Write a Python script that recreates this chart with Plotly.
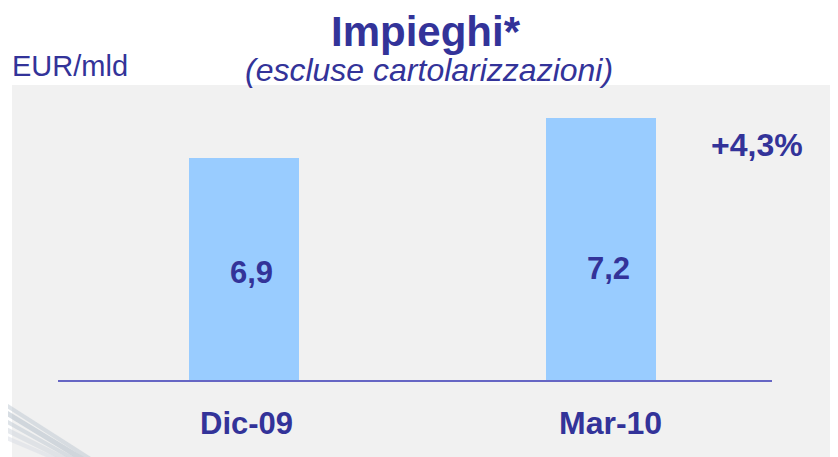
import plotly.graph_objects as go

categories = ["Dic-09", "Mar-10"]
values = [6.9, 7.2]
value_labels = ["6,9", "7,2"]
growth_label = "+4,3%"
title = "Impieghi*"
subtitle = "(escluse cartolarizzazioni)"
unit = "EUR/mld"

OFF = 8  # page body margin offset
W, H = 838, 457
ML, MR, MT, MB = 58 - OFF, 66 + OFF, 85 - OFF, 77 + OFF
PW, PH = W - ML - MR, H - MT - MB
FONT = "Liberation Sans, Arial, sans-serif"
TXT = "#333399"


def px(x):
    return (x - OFF - ML) / PW


def py(y):
    return (H - MB - (y - OFF)) / PH


xs = list(range(len(categories)))

fig = go.Figure()
fig.add_trace(go.Bar(
    x=xs, y=values, width=0.308,
    marker=dict(color="#99CCFF", line=dict(width=0)),
    hoverinfo="skip", showlegend=False,
))

ann = []
ann.append(dict(text="<b>" + title + "</b>", x=px(426), y=py(31), xref="paper", yref="paper",
                showarrow=False, xanchor="center", yanchor="middle",
                font=dict(family=FONT, size=42, color=TXT)))
ann.append(dict(text="<i>" + subtitle + "</i>", x=px(428.5), y=py(70), xref="paper", yref="paper",
                showarrow=False, xanchor="center", yanchor="middle",
                font=dict(family=FONT, size=32, color=TXT)))
ann.append(dict(text=unit, x=px(10), y=py(66), xref="paper", yref="paper",
                showarrow=False, xanchor="left", yanchor="middle",
                font=dict(family=FONT, size=29, color=TXT)))
ann.append(dict(text="<b>" + growth_label + "</b>", x=px(757), y=py(145), xref="paper", yref="paper",
                showarrow=False, xanchor="center", yanchor="middle",
                font=dict(family=FONT, size=32, color=TXT)))
label_y = [272, 268]
cat_shift = [3, 10]
for i, (c, lab) in enumerate(zip(categories, value_labels)):
    ann.append(dict(text="<b>" + lab + "</b>", x=xs[i], y=py(label_y[i]), xref="x", yref="paper",
                    xshift=8, showarrow=False, xanchor="center", yanchor="middle",
                    font=dict(family=FONT, size=31, color=TXT)))
    ann.append(dict(text="<b>" + c + "</b>", x=xs[i], y=py(423), xref="x", yref="paper",
                    xshift=cat_shift[i], showarrow=False, xanchor="center", yanchor="middle",
                    font=dict(family=FONT, size=32 if i else 31, color=TXT)))

shapes = [dict(type="rect", xref="paper", yref="paper", x0=px(12), x1=px(W + 20), y0=py(85), y1=py(H + 20),
               fillcolor="#F1F1F1", line=dict(width=0), layer="below")]
# faint decorative streaks at lower-left
for k, (y0, col, wd) in enumerate([(398, "rgba(190,200,210,0.5)", 4), (406, "rgba(175,188,200,0.5)", 5),
                                   (415, "rgba(190,200,210,0.5)", 4), (424, "rgba(205,212,220,0.5)", 5),
                                   (433, "rgba(215,220,228,0.5)", 4)]):
    shapes.append(dict(type="line", xref="paper", yref="paper", x0=px(-5), y0=py(y0),
                       x1=px(95 - k * 8), y1=py(H + 5), line=dict(color=col, width=wd), layer="below"))

fig.update_layout(
    width=W, height=H, margin=dict(l=ML, r=MR, t=MT, b=MB, autoexpand=False),
    paper_bgcolor="white", plot_bgcolor="rgba(0,0,0,0)",
    xaxis=dict(range=[-0.52, 1.48], showticklabels=False, showgrid=False, zeroline=False,
               showline=True, linecolor="#6666C4", linewidth=2, ticks=""),
    yaxis=dict(range=[5.235, 7.448], visible=False),
    annotations=ann, shapes=shapes, bargap=0,
)

fig.write_html("out.html")
